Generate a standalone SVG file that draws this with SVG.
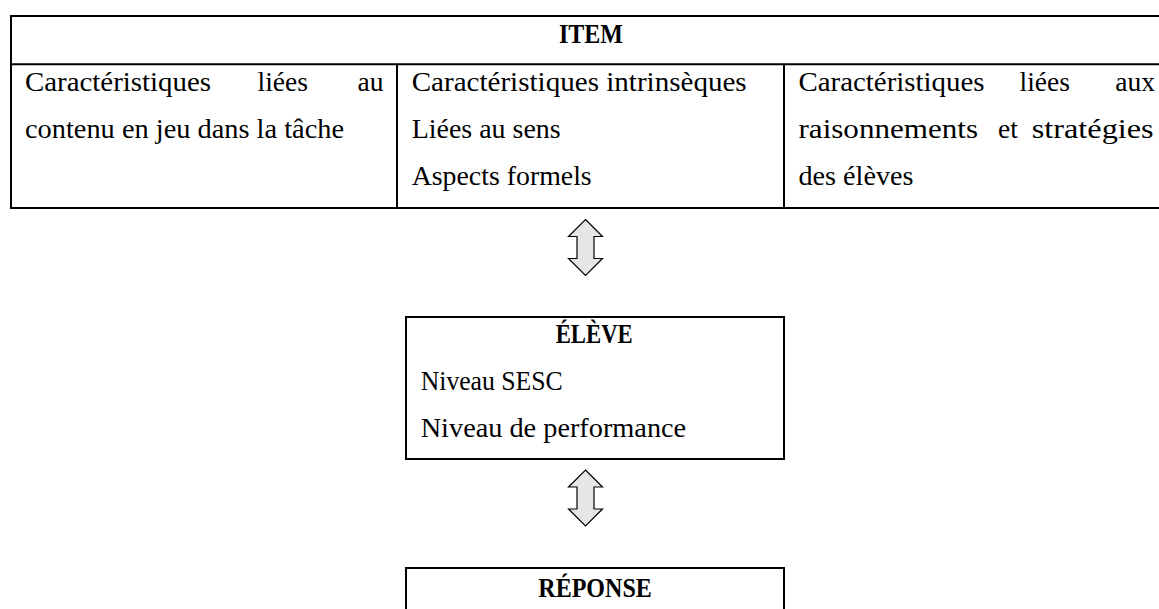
<svg xmlns="http://www.w3.org/2000/svg" width="1159" height="609" viewBox="0 0 1159 609">
<style>
.ln{stroke:#000;stroke-width:2;fill:none}
.bx{stroke:#000;stroke-width:2;fill:#fff}
.t{font-family:"Liberation Serif","Times New Roman",serif;font-size:27.5px;fill:#000}
.b{font-weight:bold}
.e{text-anchor:end}
.arr{fill:#e6e6e6;stroke:#000;stroke-width:1.2;stroke-linejoin:miter}
</style>
<defs>
<path id="dblarrow" d="M585.5,219.5 L602.5,236.5 L594,236.5 L594,258.5 L602.5,258.5 L585.5,275.5 L568.5,258.5 L577,258.5 L577,236.5 L568.5,236.5 Z"/>
</defs>
<rect width="1159" height="609" fill="#fff"/>
<g id="item">
<rect class="bx" x="11" y="16" width="1160" height="192"/>
<line class="ln" x1="11" y1="64.3" x2="1171" y2="64.3"/>
<line class="ln" x1="397" y1="64.3" x2="397" y2="208"/>
<line class="ln" x1="784" y1="64.3" x2="784" y2="208"/>
<text class="t b" x="559" y="43.3" textLength="64" lengthAdjust="spacingAndGlyphs">ITEM</text>
<text class="t" x="25" y="91" textLength="186" lengthAdjust="spacingAndGlyphs">Caractéristiques</text>
<text class="t" x="257.5" y="91">liées</text>
<text class="t e" x="383.5" y="91">au</text>
<text class="t" x="25" y="137.7" textLength="319" lengthAdjust="spacingAndGlyphs">contenu en jeu dans la tâche</text>
<text class="t" x="411.7" y="91" textLength="335" lengthAdjust="spacingAndGlyphs">Caractéristiques intrinsèques</text>
<text class="t" x="411.7" y="137.7" textLength="149" lengthAdjust="spacingAndGlyphs">Liées au sens</text>
<text class="t" x="411.7" y="185" textLength="180" lengthAdjust="spacingAndGlyphs">Aspects formels</text>
<text class="t" x="798.5" y="91" textLength="186" lengthAdjust="spacingAndGlyphs">Caractéristiques</text>
<text class="t" x="1019.5" y="91">liées</text>
<text class="t e" x="1155" y="91">aux</text>
<text class="t" x="798.5" y="137.7" textLength="179.5" lengthAdjust="spacingAndGlyphs">raisonnements</text>
<text class="t" x="998" y="137.7">et</text>
<text class="t" x="1031.7" y="137.7" textLength="122" lengthAdjust="spacingAndGlyphs">stratégies</text>
<text class="t" x="798.5" y="185" textLength="115" lengthAdjust="spacingAndGlyphs">des élèves</text>
</g>
<g id="connectors">
<use href="#dblarrow" class="arr"/>
<use href="#dblarrow" class="arr" transform="translate(0,250.5)"/>
</g>
<g id="eleve">
<rect class="bx" x="406" y="317" width="378" height="142"/>
<text class="t b" x="555.7" y="343.3" textLength="77" lengthAdjust="spacingAndGlyphs">ÉLÈVE</text>
<text class="t" x="420.7" y="390" textLength="142" lengthAdjust="spacingAndGlyphs">Niveau SESC</text>
<text class="t" x="420.7" y="436.7" textLength="265.5" lengthAdjust="spacingAndGlyphs">Niveau de performance</text>
</g>
<g id="reponse">
<rect class="bx" x="406" y="568" width="378" height="60"/>
<text class="t b" x="538.3" y="596.7" textLength="113.5" lengthAdjust="spacingAndGlyphs">RÉPONSE</text>
</g>
</svg>
